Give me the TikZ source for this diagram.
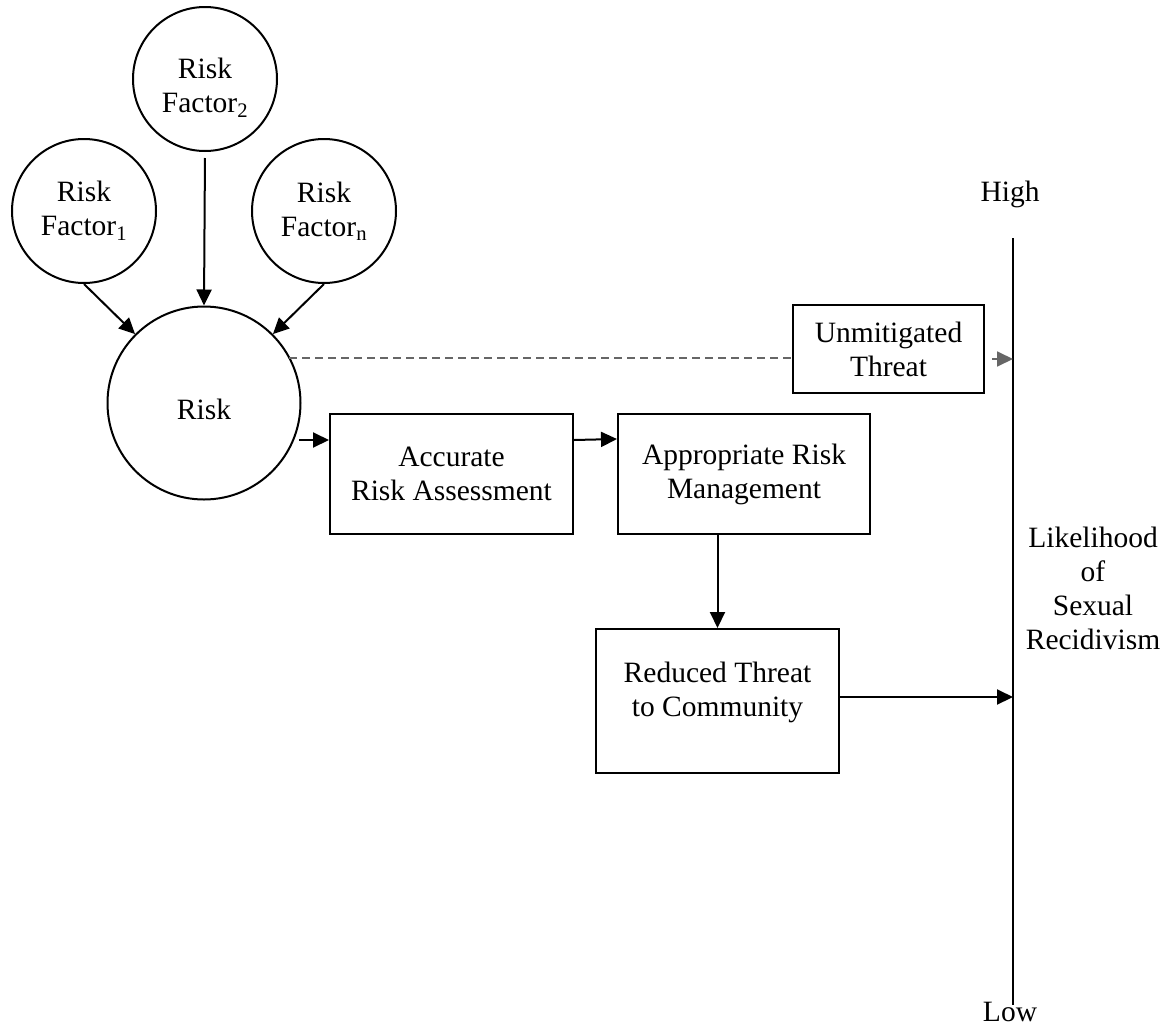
\documentclass[tikz,border=0pt]{standalone}
\usepackage{fontspec}
\setmainfont{Liberation Serif}
\usetikzlibrary{arrows.meta,calc}
\tikzset{
  lw/.style={line width=2pt},
  txt/.style={font=\fontsize{29.5}{34}\selectfont, align=center, inner sep=0pt},
  circ/.style={circle, draw, lw, inner sep=0pt, minimum size=144pt, txt},
  bigcirc/.style={circle, draw, lw, inner sep=0pt, minimum size=193pt, txt},
  box/.style={rectangle, draw, lw, inner sep=0pt, txt},
  arr/.style={lw, -{Triangle[length=16pt,width=15pt]}},
  garr/.style={line width=1.8pt, draw=black!60, -{Triangle[length=16pt,width=15pt]}},
  dashline/.style={line width=1.8pt, draw=black!60, dash pattern=on 8pt off 5pt},
}
\begin{document}
\begin{tikzpicture}[x=1pt,y=-1pt]
\path[use as bounding box] (0,0) rectangle (1164,1028);

% circles
\node[circ] (rf1) at (84,211) {Risk\\Factor\textsubscript{1}};
\node[circ, label={[txt,yshift=-9pt]center:{Risk\\Factor\textsubscript{2}}}] (rf2) at (205,79) {};
\node[circ] (rfn) at (324,211) {Risk\\Factor\textsubscript{n}};
\node[bigcirc, label={[txt,yshift=-6pt]center:{Risk}}] (risk) at (204,403) {};

% boxes
\node[box, minimum width=243pt, minimum height=120pt] (ara) at (451.5,474) {Accurate\\Risk Assessment};
\node[box, minimum width=252pt, minimum height=120pt] (arm) at (744,474) {Appropriate Risk\\Management};
\node[box, minimum width=191pt, minimum height=88pt] (unm) at (888.5,349) {Unmitigated\\Threat};
\node[box, minimum width=243pt, minimum height=144pt, label={[txt,yshift=9pt]center:{Reduced Threat\\to Community}}] (red) at (717.5,701) {};

% axis
\coordinate (axtop) at (1013,238);
\coordinate (axbot) at (1013,1005);
\draw[lw] (axtop) -- (axbot);
\node[txt] (high) at (1010,194) {High};
\node[txt] (low) at (1010,1012) {Low};
\node[txt] (lik) at (1093,588) {Likelihood\\of\\Sexual\\Recidivism};

% connectors
\draw[arr] (rf1.south) -- (risk.135);
\draw[arr] (rfn.south) -- (risk.45);
\draw[arr, shorten <=6pt] (rf2.south) -- (risk.north);

\coordinate (r1) at (299,440);
\draw[arr] (r1) -- (r1 -| ara.west);
\draw[arr] ([yshift=34pt]ara.east) -- ([yshift=35pt]arm.west);
\draw[arr] (arm.south -| red.north) -- (red.north);
\draw[arr] ([yshift=4pt]red.east) -- ([yshift=4pt]red.east -| axtop);

\coordinate (d1) at (289,358);
\draw[dashline] (d1) -- (d1 -| unm.west);
\coordinate (g1) at (992,359);
\draw[garr] (g1) -- (g1 -| axtop);
\end{tikzpicture}
\end{document}
